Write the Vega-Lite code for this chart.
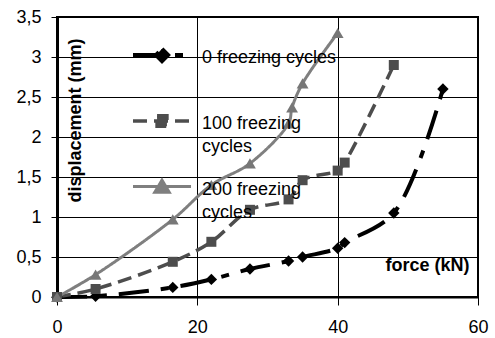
{
  "$schema": "https://vega.github.io/schema/vega-lite/v6.json",
  "width": 421,
  "height": 280,
  "autosize": "none",
  "padding": {"left": 57, "top": 17, "right": 17, "bottom": 41},
  "background": "white",
  "view": {"stroke": "black", "strokeWidth": 2},
  "config": {
    "font": "Liberation Sans",
    "view": {"stroke": "black", "strokeWidth": 2},
    "axis": {
      "labelFont": "Liberation Sans", "labelFontSize": 18, "labelColor": "black", "labelFlush": false,
      "titleFont": "Liberation Sans", "titleFontSize": 18, "titleFontWeight": "bold", "titleColor": "black"
    }
  },
  "data": {"values": [
    {"series": "0 freezing cycles", "force": 0, "disp": 0},
    {"series": "0 freezing cycles", "force": 5.5, "disp": 0.01},
    {"series": "0 freezing cycles", "force": 16.5, "disp": 0.12},
    {"series": "0 freezing cycles", "force": 22, "disp": 0.22},
    {"series": "0 freezing cycles", "force": 27.5, "disp": 0.35},
    {"series": "0 freezing cycles", "force": 33, "disp": 0.45},
    {"series": "0 freezing cycles", "force": 35, "disp": 0.5},
    {"series": "0 freezing cycles", "force": 40, "disp": 0.61},
    {"series": "0 freezing cycles", "force": 41, "disp": 0.68},
    {"series": "0 freezing cycles", "force": 48, "disp": 1.05},
    {"series": "0 freezing cycles", "force": 55, "disp": 2.6},
    {"series": "100 freezing cycles", "force": 0, "disp": 0},
    {"series": "100 freezing cycles", "force": 5.5, "disp": 0.1},
    {"series": "100 freezing cycles", "force": 16.5, "disp": 0.44},
    {"series": "100 freezing cycles", "force": 22, "disp": 0.69},
    {"series": "100 freezing cycles", "force": 27.5, "disp": 1.09},
    {"series": "100 freezing cycles", "force": 33, "disp": 1.22},
    {"series": "100 freezing cycles", "force": 35, "disp": 1.46},
    {"series": "100 freezing cycles", "force": 40, "disp": 1.58},
    {"series": "100 freezing cycles", "force": 41, "disp": 1.68},
    {"series": "100 freezing cycles", "force": 48, "disp": 2.9},
    {"series": "200 freezing cycles", "force": 0, "disp": 0},
    {"series": "200 freezing cycles", "force": 5.5, "disp": 0.28},
    {"series": "200 freezing cycles", "force": 16.5, "disp": 0.97},
    {"series": "200 freezing cycles", "force": 22, "disp": 1.4},
    {"series": "200 freezing cycles", "force": 27.5, "disp": 1.67},
    {"series": "200 freezing cycles", "force": 33, "disp": 2.17},
    {"series": "200 freezing cycles", "force": 33.5, "disp": 2.37},
    {"series": "200 freezing cycles", "force": 35, "disp": 2.67},
    {"series": "200 freezing cycles", "force": 40, "disp": 3.3}
  ]},
  "encoding": {
    "x": {
      "field": "force", "type": "quantitative",
      "scale": {"domain": [0, 60], "nice": false, "zero": false},
      "axis": {"title": "force (kN)", "values": [0, 20, 40, 60],
        "grid": true, "gridColor": "black", "gridOpacity": 1,
        "ticks": true, "tickColor": "black", "tickSize": 8,
        "domain": true, "domainColor": "black", "domainWidth": 2,
        "labelPadding": 13, "labelFlush": false,
        "titleX": 370, "titleY": -32, "titleAlign": "center", "titleBaseline": "middle"}
    },
    "y": {
      "field": "disp", "type": "quantitative",
      "scale": {"domain": [0, 3.5], "nice": false, "zero": false},
      "axis": {"title": "displacement (mm)", "values": [0, 0.5, 1, 1.5, 2, 2.5, 3, 3.5], "format": "~g",
        "labelExpr": "replace(datum.label, '.', ',')",
        "grid": true, "gridColor": "black", "gridOpacity": 1,
        "ticks": true, "tickColor": "black", "tickSize": 6,
        "domain": true, "domainColor": "black", "domainWidth": 3,
        "labelPadding": 10, "labelFlush": false,
        "titleX": 18, "titleY": 103, "titleAngle": -90, "titleAlign": "center", "titleBaseline": "middle"}
    }
  },
  "layer": [
    {
      "mark": {"type": "line", "interpolate": "catmull-rom"},
      "encoding": {
        "color": {
          "field": "series", "type": "nominal",
          "scale": {"domain": ["0 freezing cycles", "100 freezing cycles", "200 freezing cycles"], "range": ["#000000", "#4d4d4d", "#7f7f7f"]},
          "legend": {
            "title": null, "orient": "none", "legendX": 74, "legendY": 7, "padding": 0,
            "symbolSize": 3364, "rowPadding": -4, "labelOffset": 9,
            "labelFont": "Liberation Sans", "labelFontSize": 18, "labelColor": "black", "labelBaseline": "top", "labelLimit": 300,
            "labelExpr": "datum.value === '0 freezing cycles' ? [datum.label, ''] : [replace(datum.label, ' cycles', ''), 'cycles']",
            "encode": {
              "symbols": {"update": {
                "shape": {"signal": "datum.value === '0 freezing cycles' ? 'M-1,0L1,0M0,-0.21L0.21,0L0,0.21L-0.21,0Z' : datum.value === '100 freezing cycles' ? 'M-1,0L1,0M-0.17,-0.18L0.17,-0.18L0.17,0.18L-0.17,0.18Z' : 'M-1,0L1,0M0,-0.22L0.25,0.2L-0.25,0.2Z'"},
                "size": {"value": 3364},
                "strokeWidth": {"signal": "datum.value === '0 freezing cycles' ? 4 : datum.value === '100 freezing cycles' ? 3 : 1"},
                "strokeDash": {"signal": "datum.value === '0 freezing cycles' ? [31,20,8,60] : datum.value === '100 freezing cycles' ? [20,16,40] : [1,0]"},
                "fill": {"scale": "color", "field": "value"},
                "stroke": {"scale": "color", "field": "value"},
                "opacity": {"value": 1}
              }},
              "labels": {"update": {"dy": {"value": -6}, "lineHeight": {"value": 23}}}
            }
          }
        },
        "strokeDash": {
          "field": "series", "type": "nominal",
          "scale": {"domain": ["0 freezing cycles", "100 freezing cycles", "200 freezing cycles"], "range": [[30, 12, 8, 12], [14, 7], [1, 0]]},
          "legend": null
        },
        "strokeWidth": {
          "field": "series", "type": "ordinal",
          "scale": {"domain": ["0 freezing cycles", "100 freezing cycles", "200 freezing cycles"], "range": [4, 3, 1]},
          "legend": null
        }
      }
    },
    {
      "transform": [{"filter": "datum.series === '0 freezing cycles'"}],
      "mark": {"type": "point", "filled": true, "opacity": 1, "shape": "diamond", "size": 130, "color": "#000000"},
      "encoding": {}
    },
    {
      "transform": [{"filter": "datum.series === '100 freezing cycles'"}],
      "mark": {"type": "point", "filled": true, "opacity": 1, "shape": "square", "size": 100, "color": "#4d4d4d"},
      "encoding": {}
    },
    {
      "transform": [{"filter": "datum.series === '200 freezing cycles'"}],
      "mark": {"type": "point", "filled": true, "opacity": 1, "shape": "triangle-up", "size": 140, "color": "#777777"},
      "encoding": {}
    }
  ]
}
